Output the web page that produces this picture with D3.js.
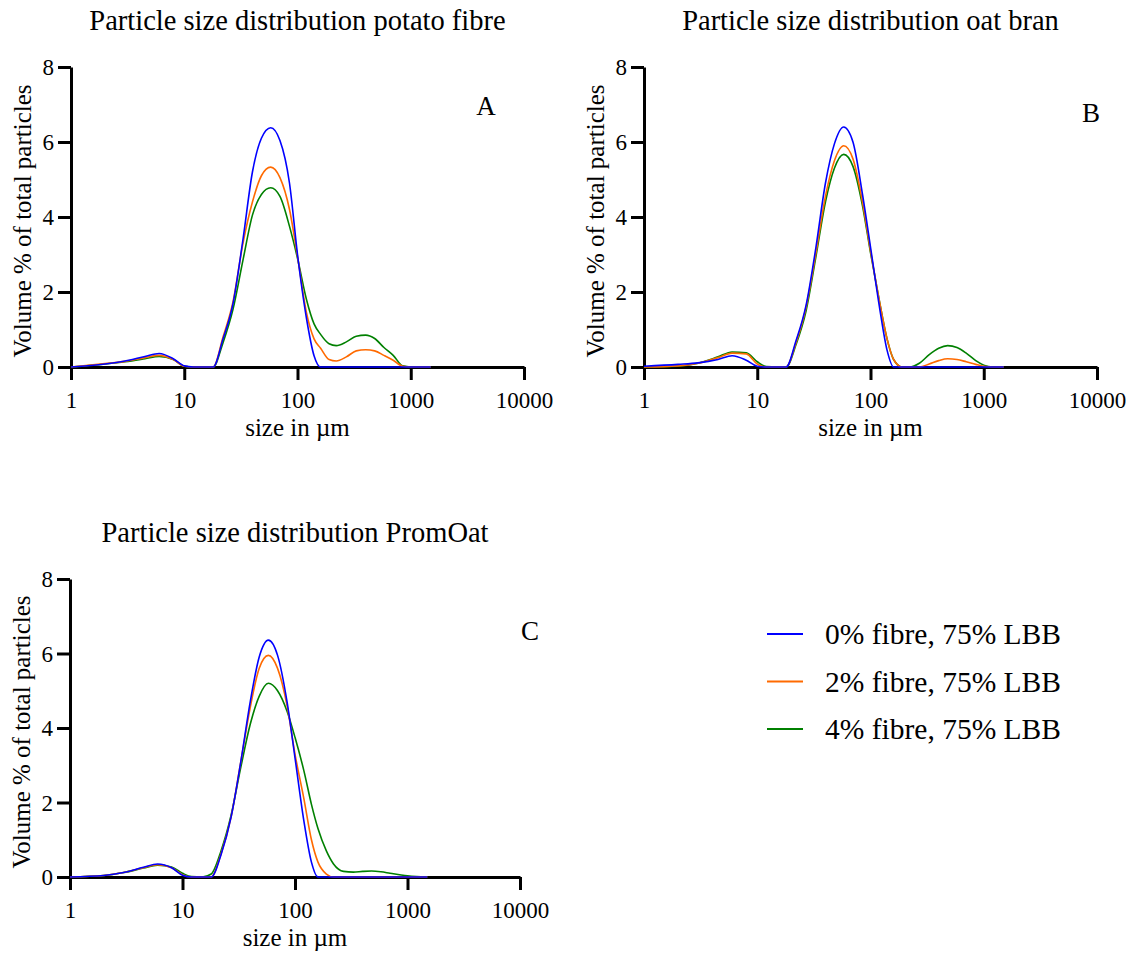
<!DOCTYPE html>
<html>
<head>
<meta charset="utf-8">
<script src="https://cdn.jsdelivr.net/npm/d3@7"></script>
<style>
  body { margin: 0; background: #fff; }
  svg text { font-family: "Liberation Serif", "Times New Roman", Times, "DejaVu Serif", serif !important; fill: #000; }
</style>
</head>
<body>
<script>
// particle sizes (µm) the curves were read at
var sizes = [1, 2, 3, 4.5, 6, 8, 10, 12, 15, 18, 22, 27, 33, 40, 48, 58, 70, 85, 100, 120,
             140, 160, 190, 220, 270, 330, 400, 480, 580, 700, 850, 1000, 1200, 1500];

var seriesNames = ["0% fibre, 75% LBB", "2% fibre, 75% LBB", "4% fibre, 75% LBB"];
var seriesColors = ["#0000ff", "#ff6a00", "#008000"];

var xTicks = [1, 10, 100, 1000, 10000];
var yTicks = [0, 2, 4, 6, 8];

// A - potato fibre
var potato0 = [0, 0.08, 0.16, 0.28, 0.36, 0.22, 0.03, 0, 0, 0, 0.75, 1.7, 3.4, 5.2, 6.1, 6.38, 6.04, 4.9, 3.0, 1.3, 0.3, 0, 0, 0, 0, 0, 0, 0, 0, 0, 0, 0, 0, 0];
var potato2 = [0, 0.09, 0.15, 0.25, 0.31, 0.2, 0.02, 0, 0, 0, 0.8, 1.75, 3.3, 4.4, 5.1, 5.33, 5.05, 4.2, 2.95, 1.45, 0.75, 0.5, 0.2, 0.16, 0.27, 0.43, 0.46, 0.43, 0.31, 0.18, 0.02, 0, 0, 0];
var potato4 = [0, 0.08, 0.14, 0.22, 0.28, 0.2, 0.02, 0, 0, 0, 0.65, 1.55, 2.85, 4.05, 4.6, 4.78, 4.55, 3.75, 2.9, 1.8, 1.15, 0.87, 0.62, 0.57, 0.67, 0.82, 0.85, 0.76, 0.52, 0.31, 0.03, 0, 0, 0];

// B - oat bran
var oat0 = [0.02, 0.07, 0.11, 0.2, 0.3, 0.18, 0.02, 0, 0, 0, 0.7, 1.65, 3.2, 4.9, 5.95, 6.4, 6.0, 4.6, 3.2, 1.6, 0.45, 0, 0, 0, 0, 0, 0, 0, 0, 0, 0, 0, 0, 0];
var oat2 = [0, 0.03, 0.1, 0.25, 0.37, 0.35, 0.08, 0, 0, 0, 0.65, 1.6, 3.05, 4.55, 5.5, 5.9, 5.55, 4.4, 3.1, 1.75, 0.75, 0.2, 0, 0, 0, 0.08, 0.17, 0.22, 0.2, 0.14, 0.07, 0.02, 0, 0];
var oat4 = [0, 0.02, 0.1, 0.27, 0.4, 0.38, 0.14, 0.01, 0, 0, 0.6, 1.5, 2.95, 4.4, 5.3, 5.67, 5.35, 4.3, 3.05, 1.75, 0.75, 0.2, 0, 0, 0.1, 0.33, 0.5, 0.57, 0.52, 0.37, 0.17, 0.05, 0, 0];

// C - PromOat
var prom0 = [0, 0.04, 0.12, 0.26, 0.35, 0.25, 0.05, 0, 0, 0, 0.6, 1.6, 3.1, 4.7, 5.9, 6.36, 5.95, 4.7, 3.2, 1.5, 0.4, 0, 0, 0, 0, 0, 0, 0, 0, 0, 0, 0, 0, 0];
var prom2 = [0, 0.04, 0.12, 0.25, 0.33, 0.25, 0.06, 0, 0, 0, 0.62, 1.6, 3.1, 4.55, 5.6, 5.95, 5.6, 4.6, 3.3, 2.1, 1.0, 0.4, 0.08, 0, 0, 0, 0, 0, 0, 0, 0, 0, 0, 0];
var prom4 = [0, 0.04, 0.12, 0.24, 0.32, 0.27, 0.1, 0.01, 0, 0.08, 0.7, 1.65, 2.95, 4.1, 4.85, 5.2, 5.0, 4.45, 3.75, 2.85, 1.95, 1.3, 0.7, 0.35, 0.15, 0.13, 0.15, 0.16, 0.14, 0.1, 0.06, 0.03, 0.01, 0];

var panels = [
  { title: "Particle size distribution potato fibre", letter: "A", series: [potato0, potato2, potato4],
    x0: 71, x1: 524, y0: 367, y1: 67, lx: 486, ly: 115 },
  { title: "Particle size distribution oat bran", letter: "B", series: [oat0, oat2, oat4],
    x0: 644, x1: 1097, y0: 367, y1: 67, lx: 1091, ly: 122 },
  { title: "Particle size distribution PromOat", letter: "C", series: [prom0, prom2, prom4],
    x0: 70, x1: 520, y0: 877, y1: 579, lx: 530, ly: 640 }
];

var serif = "'Liberation Serif', 'Times New Roman', Times, 'DejaVu Serif', serif";

var svg = d3.select("body").append("svg")
  .attr("width", 1133)
  .attr("height", 956)
  .attr("font-family", serif);

panels.forEach(function(p) {
  var x = d3.scaleLog().domain([1, 10000]).range([p.x0, p.x1]);
  var y = d3.scaleLinear().domain([0, 8]).range([p.y0, p.y1]);
  var g = svg.append("g");

  // axes
  var xAxis = g.append("g")
    .attr("transform", "translate(0," + p.y0 + ")")
    .call(d3.axisBottom(x).tickValues(xTicks).tickFormat(d3.format("d")).tickSize(13).tickSizeOuter(0).tickPadding(6));
  var yAxis = g.append("g")
    .attr("transform", "translate(" + p.x0 + ",0)")
    .call(d3.axisLeft(y).tickValues(yTicks).tickSize(13).tickSizeOuter(0).tickPadding(4));

  [xAxis, yAxis].forEach(function(a) {
    a.attr("font-family", serif).attr("font-size", 23);
    a.select(".domain").attr("stroke", "#000").attr("stroke-width", 3);
    a.selectAll(".tick line").attr("stroke", "#000").attr("stroke-width", 3);
  });
  xAxis.selectAll(".tick text").attr("dy", "0.95em");
  yAxis.selectAll(".tick text").attr("dy", "0.34em");

  // curves, blue on top
  var line = d3.line()
    .x(function(d, i) { return x(sizes[i]); })
    .y(function(d) { return y(d); })
    .curve(d3.curveMonotoneX);

  for (var s = p.series.length - 1; s >= 0; s--) {
    g.append("path")
      .datum(p.series[s])
      .attr("d", line)
      .attr("fill", "none")
      .attr("stroke", seriesColors[s])
      .attr("stroke-width", 1.6);
  }

  // texts
  g.append("text")
    .attr("x", (p.x0 + p.x1) / 2)
    .attr("y", p.y1 - 37)
    .attr("text-anchor", "middle")
    .attr("font-size", 28.5)
    .text(p.title);

  g.append("text")
    .attr("x", (p.x0 + p.x1) / 2)
    .attr("y", p.y0 + 69)
    .attr("text-anchor", "middle")
    .attr("font-size", 25)
    .text("size in µm");

  g.append("text")
    .attr("transform", "translate(" + (p.x0 - 40) + "," + ((p.y0 + p.y1) / 2 + 4) + ") rotate(-90)")
    .attr("text-anchor", "middle")
    .attr("font-size", 25)
    .text("Volume % of total particles");

  g.append("text")
    .attr("x", p.lx)
    .attr("y", p.ly)
    .attr("text-anchor", "middle")
    .attr("font-size", 27)
    .text(p.letter);
});

// legend
var legend = svg.append("g").attr("transform", "translate(767,634)");
seriesNames.forEach(function(name, i) {
  var row = legend.append("g").attr("transform", "translate(0," + (i * 47.5) + ")");
  row.append("line")
    .attr("x1", 0).attr("x2", 36)
    .attr("stroke", seriesColors[i])
    .attr("stroke-width", 2);
  row.append("text")
    .attr("x", 58)
    .attr("dy", "0.35em")
    .attr("font-size", 29.5)
    .text(name);
});
</script>
</body>
</html>
